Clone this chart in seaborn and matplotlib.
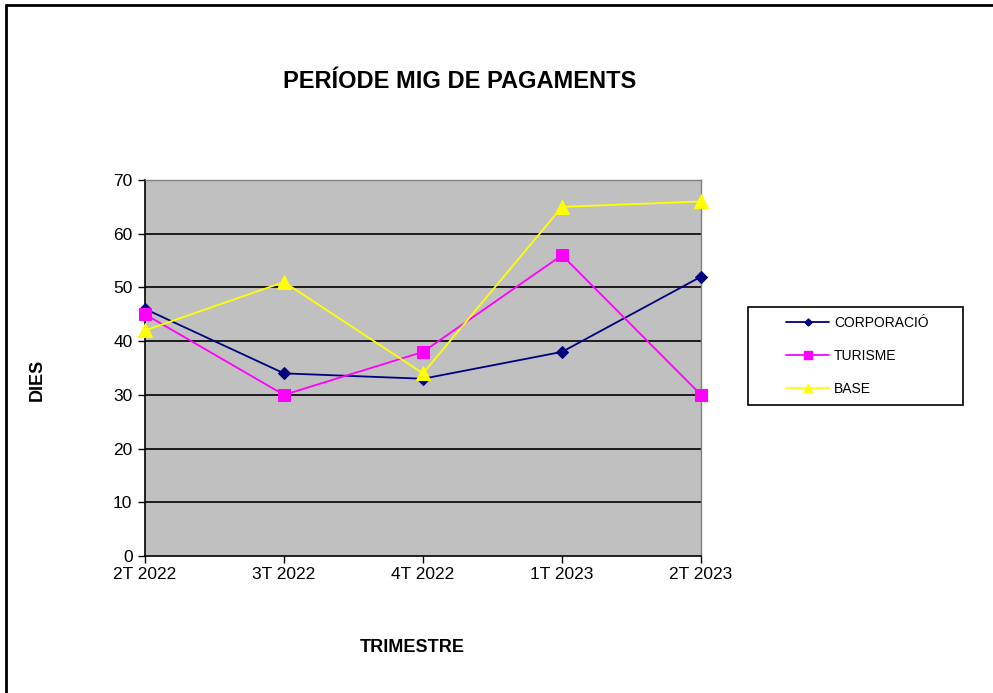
import matplotlib
matplotlib.use("Agg")
import matplotlib.pyplot as plt
import seaborn as sns
import pandas as pd
from matplotlib.lines import Line2D
from matplotlib.patches import Rectangle

quarters = ["2T 2022", "3T 2022", "4T 2022", "1T 2023", "2T 2023"]
corporacio = [46, 34, 33, 38, 52]
turisme = [45, 30, 38, 56, 30]
base = [42, 51, 34, 65, 66]
series_names = ["CORPORACIÓ", "TURISME", "BASE"]
yticks = [0, 10, 20, 30, 40, 50, 60, 70]

sns.set_theme(style="white")
plt.rcParams['font.family'] = ['Liberation Sans', 'DejaVu Sans']
plt.rcParams['text.color'] = 'black'
plt.rcParams['axes.labelcolor'] = 'black'

rows = []
for name, vals in zip(series_names, [corporacio, turisme, base]):
    for i, v in enumerate(vals):
        rows.append({"idx": i, "val": v, "serie": name})
df = pd.DataFrame(rows)

colors = {"CORPORACIÓ": "#000080", "TURISME": "#FF00FF", "BASE": "#FFFF00"}
markers = {"CORPORACIÓ": "D", "TURISME": "s", "BASE": "^"}
msizes = {"CORPORACIÓ": 6, "TURISME": 9, "BASE": 10}

W, H = 993, 693
fig = plt.figure(figsize=(W/100, H/100), dpi=100)
ax = fig.add_axes([145/W, 1-556/H, (701-145)/W, (556-180)/H])
ax.set_facecolor("#C0C0C0")

for name in series_names:
    sub = df[df["serie"] == name]
    sns.lineplot(data=sub, x="idx", y="val", ax=ax, color=colors[name],
                 marker=markers[name], markersize=msizes[name],
                 markeredgecolor=colors[name], linewidth=1.3, legend=False,
                 clip_on=False, zorder=3)

ax.set_xlim(0, 4)
ax.set_ylim(0, 70)
ax.set_yticks(yticks)
ax.set_xticks(range(len(quarters)))
ax.set_xticklabels(quarters)
for y in yticks[1:-1]:
    ax.axhline(y, color="black", linewidth=1.2, zorder=1)

for s in ["top", "right"]:
    ax.spines[s].set_color("#808080")
    ax.spines[s].set_linewidth(1)
for s in ["left", "bottom"]:
    ax.spines[s].set_color("black")
    ax.spines[s].set_linewidth(1.2)
ax.tick_params(axis="both", direction="out", length=5, width=1, color="black",
               labelsize=12.5, labelcolor="black", left=True, bottom=True)
ax.tick_params(axis="y", pad=4)
ax.tick_params(axis="x", pad=3)

ax.set_xlabel("")
ax.set_ylabel("")
fig.text(412/W, 1-648/H, "TRIMESTRE", ha="center", va="center",
         fontsize=13, fontweight="bold")
fig.text(37/W, 1-380/H, "DIES", ha="center", va="center",
         fontsize=13, fontweight="bold", rotation=90)

fig.text(460/W, 1-82/H, "PERÍODE MIG DE PAGAMENTS", ha="center", va="center",
         fontsize=17, fontweight="bold")

# legend frame drawn as a rectangle
fig.add_artist(Rectangle((748/W, 1-405/H), (963-748)/W, (405-307)/H,
                         transform=fig.transFigure, facecolor="white",
                         edgecolor="black", linewidth=1.2, zorder=5))
handles = [Line2D([0], [0], color=colors[n], marker=markers[n],
                  markersize=msizes[n]*0.6, linewidth=1.3) for n in series_names]
leg = fig.legend(handles, series_names, loc="center left",
                 bbox_to_anchor=(786/W, 1-356/H),
                 frameon=False, fontsize=10, handlelength=3.1, labelspacing=1.35,
                 borderpad=0, borderaxespad=0, handletextpad=0.35)
leg.set_zorder(6)

fig.add_artist(Line2D([6/W, 6/W], [0, 1-5/H], color="black", linewidth=2,
                      transform=fig.transFigure))
fig.add_artist(Line2D([6/W, 1], [1-5/H, 1-5/H], color="black", linewidth=2,
                      transform=fig.transFigure))

fig.savefig("out.png", dpi=100)
